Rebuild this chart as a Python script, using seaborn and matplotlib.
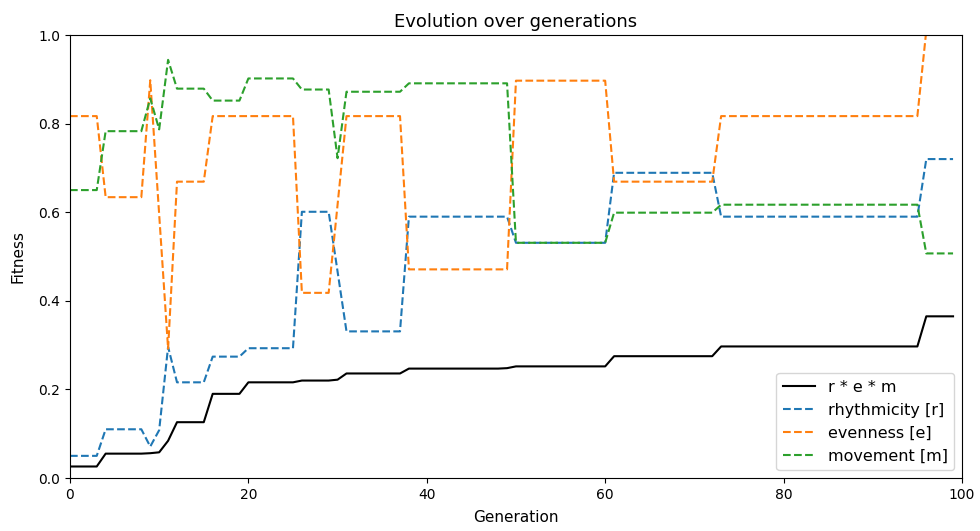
import pandas as pd
import seaborn as sns
import matplotlib
matplotlib.use("Agg")
import matplotlib.pyplot as plt

# generation index 0..99
generations = list(range(100))

# best fitness (r * e * m)
fitness = [
    0.026, 0.026, 0.026, 0.026, 0.055, 0.055, 0.055, 0.055, 0.055, 0.056,
    0.058, 0.084, 0.126, 0.126, 0.126, 0.126, 0.190, 0.190, 0.190, 0.190,
    0.216, 0.216, 0.216, 0.216, 0.216, 0.216, 0.220, 0.220, 0.220, 0.220,
    0.222, 0.236, 0.236, 0.236, 0.236, 0.236, 0.236, 0.236, 0.247, 0.247,
    0.247, 0.247, 0.247, 0.247, 0.247, 0.247, 0.247, 0.247, 0.247, 0.248,
    0.252, 0.252, 0.252, 0.252, 0.252, 0.252, 0.252, 0.252, 0.252, 0.252,
    0.252, 0.275, 0.275, 0.275, 0.275, 0.275, 0.275, 0.275, 0.275, 0.275,
    0.275, 0.275, 0.275, 0.297, 0.297, 0.297, 0.297, 0.297, 0.297, 0.297,
    0.297, 0.297, 0.297, 0.297, 0.297, 0.297, 0.297, 0.297, 0.297, 0.297,
    0.297, 0.297, 0.297, 0.297, 0.297, 0.297, 0.365, 0.365, 0.365, 0.365,
]

rhythmicity = [
    0.050, 0.050, 0.050, 0.050, 0.110, 0.110, 0.110, 0.110, 0.110, 0.071,
    0.108, 0.296, 0.216, 0.216, 0.216, 0.216, 0.274, 0.274, 0.274, 0.274,
    0.293, 0.293, 0.293, 0.293, 0.293, 0.293, 0.601, 0.601, 0.601, 0.601,
    0.466, 0.331, 0.331, 0.331, 0.331, 0.331, 0.331, 0.331, 0.590, 0.590,
    0.590, 0.590, 0.590, 0.590, 0.590, 0.590, 0.590, 0.590, 0.590, 0.590,
    0.531, 0.531, 0.531, 0.531, 0.531, 0.531, 0.531, 0.531, 0.531, 0.531,
    0.531, 0.689, 0.689, 0.689, 0.689, 0.689, 0.689, 0.689, 0.689, 0.689,
    0.689, 0.689, 0.689, 0.590, 0.590, 0.590, 0.590, 0.590, 0.590, 0.590,
    0.590, 0.590, 0.590, 0.590, 0.590, 0.590, 0.590, 0.590, 0.590, 0.590,
    0.590, 0.590, 0.590, 0.590, 0.590, 0.590, 0.720, 0.720, 0.720, 0.720,
]

evenness = [
    0.817, 0.817, 0.817, 0.817, 0.634, 0.634, 0.634, 0.634, 0.634, 0.898,
    0.595, 0.292, 0.669, 0.669, 0.669, 0.669, 0.817, 0.817, 0.817, 0.817,
    0.817, 0.817, 0.817, 0.817, 0.817, 0.817, 0.418, 0.418, 0.418, 0.418,
    0.617, 0.817, 0.817, 0.817, 0.817, 0.817, 0.817, 0.817, 0.471, 0.471,
    0.471, 0.471, 0.471, 0.471, 0.471, 0.471, 0.471, 0.471, 0.471, 0.471,
    0.897, 0.897, 0.897, 0.897, 0.897, 0.897, 0.897, 0.897, 0.897, 0.897,
    0.897, 0.669, 0.669, 0.669, 0.669, 0.669, 0.669, 0.669, 0.669, 0.669,
    0.669, 0.669, 0.669, 0.817, 0.817, 0.817, 0.817, 0.817, 0.817, 0.817,
    0.817, 0.817, 0.817, 0.817, 0.817, 0.817, 0.817, 0.817, 0.817, 0.817,
    0.817, 0.817, 0.817, 0.817, 0.817, 0.817, 1.010, 1.010, 1.010, 1.010,
]

movement = [
    0.650, 0.650, 0.650, 0.650, 0.783, 0.783, 0.783, 0.783, 0.783, 0.857,
    0.787, 0.944, 0.879, 0.879, 0.879, 0.879, 0.852, 0.852, 0.852, 0.852,
    0.902, 0.902, 0.902, 0.902, 0.902, 0.902, 0.877, 0.877, 0.877, 0.877,
    0.722, 0.872, 0.872, 0.872, 0.872, 0.872, 0.872, 0.872, 0.891, 0.891,
    0.891, 0.891, 0.891, 0.891, 0.891, 0.891, 0.891, 0.891, 0.891, 0.891,
    0.531, 0.531, 0.531, 0.531, 0.531, 0.531, 0.531, 0.531, 0.531, 0.531,
    0.531, 0.599, 0.599, 0.599, 0.599, 0.599, 0.599, 0.599, 0.599, 0.599,
    0.599, 0.599, 0.599, 0.617, 0.617, 0.617, 0.617, 0.617, 0.617, 0.617,
    0.617, 0.617, 0.617, 0.617, 0.617, 0.617, 0.617, 0.617, 0.617, 0.617,
    0.617, 0.617, 0.617, 0.617, 0.617, 0.617, 0.507, 0.507, 0.507, 0.507,
]

df = pd.DataFrame({
    "Generation": generations,
    "r * e * m": fitness,
    "rhythmicity [r]": rhythmicity,
    "evenness [e]": evenness,
    "movement [m]": movement,
})

fig, ax = plt.subplots(figsize=(9.8, 5.31), dpi=100)
fig.subplots_adjust(left=0.0714, right=0.9816, top=0.934, bottom=0.0998)

sns.lineplot(data=df, x="Generation", y="r * e * m", color="black",
             label="r * e * m", ax=ax)
sns.lineplot(data=df, x="Generation", y="rhythmicity [r]", color="tab:blue",
             linestyle="--", label="rhythmicity [r]", ax=ax)
sns.lineplot(data=df, x="Generation", y="evenness [e]", color="tab:orange",
             linestyle="--", label="evenness [e]", ax=ax)
sns.lineplot(data=df, x="Generation", y="movement [m]", color="tab:green",
             linestyle="--", label="movement [m]", ax=ax)

ax.set_xlim(0, 100)
ax.set_ylim(0, 1)
ax.set_title("Evolution over generations", fontsize=13)
ax.set_xlabel("Generation", fontsize=11, labelpad=6)
ax.set_ylabel("Fitness", fontsize=11, labelpad=9)
ax.legend(loc="lower right", fontsize=11.5)

fig.savefig("out.png")
